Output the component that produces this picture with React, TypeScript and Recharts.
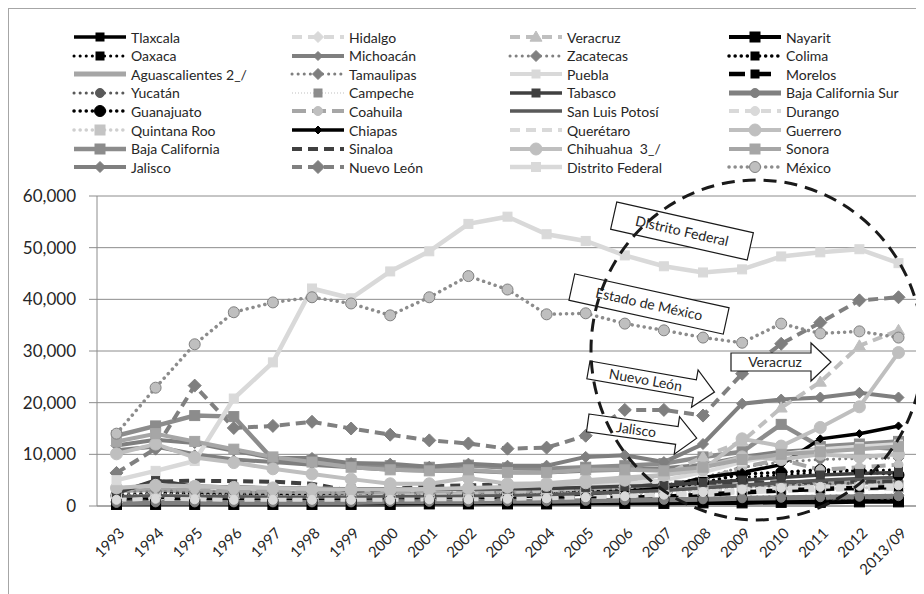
import { CartesianGrid, Line, LineChart, XAxis, YAxis } from "recharts";

const YEARS = [
  "1993", "1994", "1995", "1996", "1997", "1998", "1999", "2000", "2001", "2002",
  "2003", "2004", "2005", "2006", "2007", "2008", "2009", "2010", "2011", "2012", "2013/09",
];

const Y_TICKS = [0, 10000, 20000, 30000, 40000, 50000, 60000];

// values, one array per state
const TLAXCALA = [500, 600, 400, 300, 300, 300, 300, 300, 300, 300, 400, 400, 500, 500, 600, 800, 1000, 1200, 1300, 1500, 1600];
const OAXACA = [1000, 1100, 1000, 1200, 1300, 1300, 1400, 1500, 1600, 1800, 2000, 2200, 2400, 2600, 3000, 3500, 5500, 6000, 6500, 6800, 7000];
const AGUASCALIENTES = [3000, 3200, 2800, 2600, 2500, 2500, 2400, 2400, 2300, 2300, 2400, 2600, 2800, 3000, 3300, 3800, 4000, 4200, 4400, 4500, 4600];
const YUCATAN = [1500, 1800, 1700, 1600, 1500, 1500, 1600, 1600, 1700, 1800, 1900, 2000, 2200, 2400, 2600, 3000, 3500, 4000, 4200, 4500, 4700];
const GUANAJUATO = [2000, 2500, 2300, 2200, 2100, 2000, 2000, 2000, 2100, 2200, 2300, 2500, 2800, 3000, 3500, 4500, 6200, 6500, 7000, 6800, 6000];
const QUINTANA_ROO = [1800, 2200, 2000, 1900, 1800, 1800, 1800, 1900, 2000, 2100, 2200, 2300, 2500, 2600, 2800, 3000, 3200, 3300, 3400, 3500, 3600];
const BAJA_CALIFORNIA = [13600, 15500, 17500, 17300, 9000, 8800, 8200, 7800, 7500, 7900, 7400, 7200, 7500, 7800, 8200, 9500, 10500, 15800, 11500, 12000, 12500];
const JALISCO = [11700, 12800, 12200, 10700, 9300, 9300, 8300, 8200, 7600, 8200, 7800, 7800, 9500, 9800, 8500, 12000, 19800, 20600, 21000, 21900, 21000];
const HIDALGO = [1500, 1800, 1600, 1500, 1400, 1400, 1300, 1300, 1300, 1400, 1500, 1600, 1800, 2000, 2200, 2500, 2800, 3000, 3200, 3300, 3400];
const MICHOACAN = [10800, 11500, 10000, 9000, 8500, 8000, 7500, 7000, 6800, 6800, 6500, 6500, 6800, 7000, 7300, 8000, 9500, 10500, 11000, 11500, 11000];
const TAMAULIPAS = [2500, 3000, 2800, 2700, 2600, 2600, 2500, 2500, 2500, 2600, 2700, 2900, 3200, 3600, 4000, 5500, 7500, 8500, 9000, 9200, 9300];
const CAMPECHE = [500, 600, 600, 600, 600, 600, 600, 700, 700, 700, 800, 800, 900, 900, 1000, 1100, 1200, 1300, 1300, 1400, 1500];
const COAHUILA = [3000, 3500, 3200, 3000, 2900, 2800, 2700, 2700, 2700, 2800, 2900, 3100, 3400, 3700, 4000, 5000, 7500, 9000, 7000, 7500, 8000];
const CHIAPAS = [1500, 1700, 1500, 1400, 1400, 1400, 1500, 1500, 1600, 1700, 1800, 2000, 2300, 2800, 3500, 5500, 6500, 8000, 13000, 14000, 15500];
const SINALOA = [2700, 4700, 4900, 4800, 4700, 4300, 2900, 3300, 3800, 4000, 4200, 4300, 4500, 4600, 4600, 4500, 4500, 4600, 4700, 4700, 4800];
const NUEVO_LEON = [6400, 11100, 23300, 15100, 15500, 16300, 15000, 13800, 12700, 12100, 11100, 11300, 13600, 18600, 18600, 17500, 25600, 31400, 35500, 39800, 40400];
const VERACRUZ = [1500, 1800, 1700, 1600, 1600, 1700, 1800, 2000, 2100, 2300, 2600, 3000, 3500, 4500, 6000, 9500, 12500, 19000, 24000, 31000, 34000];
const ZACATECAS = [800, 900, 900, 800, 800, 800, 800, 800, 800, 900, 900, 1000, 1100, 1200, 1300, 1500, 1700, 1800, 1900, 2000, 2100];
const PUEBLA = [3500, 4000, 3800, 3600, 3500, 3400, 3300, 3300, 3200, 3300, 3400, 3600, 3900, 4400, 5000, 6500, 8500, 10000, 11000, 11500, 12000];
const TABASCO = [2500, 5000, 3800, 3700, 3500, 3400, 3300, 3300, 3200, 3300, 3300, 3400, 3600, 3800, 4000, 4500, 5000, 5500, 6000, 6300, 6500];
const SAN_LUIS_POTOSI = [1800, 2000, 1900, 1800, 1700, 1700, 1700, 1800, 1800, 1900, 2000, 2200, 2400, 2700, 3000, 3500, 4000, 4500, 5000, 5300, 5500];
const QUERETARO = [1000, 1200, 1100, 1000, 1000, 1000, 1000, 1100, 1100, 1200, 1300, 1400, 1600, 1800, 2000, 2300, 2600, 2900, 3100, 3300, 3400];
const CHIHUAHUA = [3500, 4000, 3800, 3600, 3500, 3300, 3200, 3200, 3300, 3500, 3700, 4000, 4500, 5000, 6000, 7000, 13000, 11600, 15200, 19200, 29700];
const DISTRITO_FEDERAL = [5000, 6800, 8700, 20800, 27800, 42100, 40200, 45400, 49300, 54600, 56000, 52600, 51300, 48500, 46400, 45200, 45800, 48300, 49100, 49700, 47000];
const NAYARIT = [300, 300, 300, 300, 300, 300, 300, 300, 400, 400, 400, 400, 500, 500, 500, 600, 600, 700, 700, 800, 800];
const COLIMA = [400, 500, 500, 500, 500, 500, 500, 500, 500, 500, 600, 600, 600, 700, 700, 800, 900, 900, 1000, 1000, 1100];
const MORELOS = [800, 900, 900, 900, 900, 900, 1000, 1000, 1000, 1100, 1200, 1300, 1400, 1600, 1800, 2200, 2600, 3000, 3300, 3500, 3700];
const BAJA_CALIFORNIA_SUR = [600, 700, 700, 700, 700, 700, 700, 800, 800, 800, 900, 900, 1000, 1100, 1200, 1300, 1500, 1600, 1700, 1800, 1900];
const DURANGO = [1200, 1400, 1300, 1200, 1200, 1200, 1200, 1200, 1300, 1300, 1400, 1500, 1700, 1900, 2200, 2700, 3200, 3500, 3700, 3900, 4000];
const GUERRERO = [10100, 12000, 9400, 8400, 7200, 6200, 5200, 4300, 4300, 5400, 4300, 4400, 5000, 5500, 6000, 7500, 9500, 9000, 10000, 9500, 10000];
const SONORA = [12500, 14000, 12500, 11000, 9500, 8500, 7500, 7000, 6800, 7000, 6500, 6500, 7000, 7000, 6800, 7500, 9000, 10000, 10500, 11000, 11500];
const MEXICO = [14000, 22900, 31300, 37500, 39400, 40400, 39200, 36900, 40400, 44500, 41900, 37100, 37300, 35300, 34000, 32600, 31600, 35300, 33400, 33800, 32600];

type Shape = "square" | "circle" | "diamond" | "triangle" | "none";

interface Series {
  name: string;
  values: number[];
  stroke: string;
  width: number;
  dash?: string;
  shape: Shape;
  fill?: string;
  outline?: string;
  size?: number;
}

const DOTTED = "0.1 6";
const DASHED = "10 6";

// legend order, column by column
const SERIES: Series[] = [
  { name: "Tlaxcala", values: TLAXCALA, stroke: "#000", width: 3.5, shape: "square", fill: "#000" },
  { name: "Oaxaca", values: OAXACA, stroke: "#000", width: 3, dash: DOTTED, shape: "square", fill: "#000" },
  { name: "Aguascalientes 2_/", values: AGUASCALIENTES, stroke: "#a6a6a6", width: 5, shape: "none" },
  { name: "Yucatán", values: YUCATAN, stroke: "#595959", width: 3, dash: DOTTED, shape: "circle", fill: "#595959" },
  { name: "Guanajuato", values: GUANAJUATO, stroke: "#000", width: 3.5, dash: DOTTED, shape: "circle", fill: "#000", size: 5.5 },
  { name: "Quintana Roo", values: QUINTANA_ROO, stroke: "#cfcfcf", width: 3.5, dash: DOTTED, shape: "square", fill: "#c4c4c4", size: 10 },
  { name: "Baja California", values: BAJA_CALIFORNIA, stroke: "#8c8c8c", width: 4.5, shape: "square", fill: "#8c8c8c", size: 10 },
  { name: "Jalisco", values: JALISCO, stroke: "#7f7f7f", width: 4, shape: "diamond", fill: "#7f7f7f" },
  { name: "Hidalgo", values: HIDALGO, stroke: "#d9d9d9", width: 4, dash: DASHED, shape: "diamond", fill: "#d9d9d9" },
  { name: "Michoacán", values: MICHOACAN, stroke: "#7f7f7f", width: 4, shape: "diamond", fill: "#7f7f7f", size: 4.5 },
  { name: "Tamaulipas", values: TAMAULIPAS, stroke: "#7f7f7f", width: 3, dash: DOTTED, shape: "diamond", fill: "#7f7f7f" },
  { name: "Campeche", values: CAMPECHE, stroke: "#bfbfbf", width: 1, dash: "1 2", shape: "square", fill: "#8c8c8c" },
  { name: "Coahuila", values: COAHUILA, stroke: "#a6a6a6", width: 4, dash: "14 6", shape: "circle", fill: "#bfbfbf" },
  { name: "Chiapas", values: CHIAPAS, stroke: "#000", width: 3.5, shape: "diamond", fill: "#000", size: 4 },
  { name: "Sinaloa", values: SINALOA, stroke: "#404040", width: 4, dash: DASHED, shape: "none" },
  { name: "Nuevo León", values: NUEVO_LEON, stroke: "#808080", width: 4, dash: DASHED, shape: "diamond", fill: "#7f7f7f", size: 6.5 },
  { name: "Veracruz", values: VERACRUZ, stroke: "#bfbfbf", width: 4, dash: DASHED, shape: "triangle", fill: "#bfbfbf" },
  { name: "Zacatecas", values: ZACATECAS, stroke: "#808080", width: 3, dash: DOTTED, shape: "diamond", fill: "#808080" },
  { name: "Puebla", values: PUEBLA, stroke: "#d9d9d9", width: 4, shape: "square", fill: "#d9d9d9" },
  { name: "Tabasco", values: TABASCO, stroke: "#404040", width: 3.5, shape: "square", fill: "#404040" },
  { name: "San Luis Potosí", values: SAN_LUIS_POTOSI, stroke: "#595959", width: 3.5, shape: "none" },
  { name: "Querétaro", values: QUERETARO, stroke: "#d9d9d9", width: 4, dash: DASHED, shape: "none" },
  { name: "Chihuahua  3_/", values: CHIHUAHUA, stroke: "#bfbfbf", width: 4, shape: "circle", fill: "#bfbfbf", size: 6 },
  { name: "Distrito Federal", values: DISTRITO_FEDERAL, stroke: "#d9d9d9", width: 4.5, shape: "square", fill: "#d9d9d9", size: 9 },
  { name: "Nayarit", values: NAYARIT, stroke: "#000", width: 4, shape: "square", fill: "#000", size: 10 },
  { name: "Colima", values: COLIMA, stroke: "#000", width: 3.5, dash: DOTTED, shape: "square", fill: "#000" },
  { name: "Morelos", values: MORELOS, stroke: "#000", width: 4.5, dash: "16 10", shape: "square", fill: "#000" },
  { name: "Baja California Sur", values: BAJA_CALIFORNIA_SUR, stroke: "#808080", width: 5, shape: "circle", fill: "#808080" },
  { name: "Durango", values: DURANGO, stroke: "#d9d9d9", width: 4, dash: DASHED, shape: "circle", fill: "#d9d9d9" },
  { name: "Guerrero", values: GUERRERO, stroke: "#bfbfbf", width: 4, shape: "circle", fill: "#bfbfbf", size: 6 },
  { name: "Sonora", values: SONORA, stroke: "#a6a6a6", width: 4, shape: "square", fill: "#a6a6a6", size: 10 },
  { name: "México", values: MEXICO, stroke: "#8c8c8c", width: 3.5, dash: DOTTED, shape: "circle", fill: "#bfbfbf", outline: "#808080", size: 5.5 },
];

const chartData = YEARS.map((year, i) => {
  const row: Record<string, string | number> = { year };
  for (const s of SERIES) {
    row[s.name] = s.values[i];
  }
  return row;
});

const FONT = "Lato, 'Noto Sans', sans-serif";
const TEXT = "#262626";
const GRID = "#8c8c8c";

function Marker({ s, cx, cy }: { s: Series; cx: number; cy: number }) {
  const fill = s.fill ?? s.stroke;
  const outline = s.outline ?? fill;
  if (s.shape === "square") {
    const a = s.size ?? 8;
    return <rect x={cx - a / 2} y={cy - a / 2} width={a} height={a} fill={fill} stroke={outline} />;
  }
  if (s.shape === "circle") {
    const r = s.size ?? 4.5;
    return <circle cx={cx} cy={cy} r={r} fill={fill} stroke={outline} />;
  }
  if (s.shape === "diamond") {
    const r = s.size ?? 5.5;
    return (
      <polygon
        points={`${cx},${cy - r} ${cx + r},${cy} ${cx},${cy + r} ${cx - r},${cy}`}
        fill={fill}
        stroke={outline}
      />
    );
  }
  if (s.shape === "triangle") {
    const r = s.size ?? 6;
    return (
      <polygon
        points={`${cx},${cy - r} ${cx + r},${cy + r * 0.7} ${cx - r},${cy + r * 0.7}`}
        fill={fill}
        stroke={outline}
      />
    );
  }
  return null;
}

function LegendSymbol({ s }: { s: Series }) {
  return (
    <svg width={56} height={14} style={{ display: "block", flexShrink: 0 }}>
      <line
        x1={2}
        x2={54}
        y1={7}
        y2={7}
        stroke={s.stroke}
        strokeWidth={s.width}
        strokeDasharray={s.dash}
        strokeLinecap={s.dash === DOTTED ? "round" : "butt"}
      />
      <Marker s={s} cx={28} cy={7} />
    </svg>
  );
}

// column x positions of the legend (symbol start, text start)
const LEGEND_COLS = [63, 281, 499, 718];

function ChartLegend() {
  return (
    <>
      {SERIES.map((s, i) => {
        const col = Math.floor(i / 8);
        const row = i % 8;
        return (
          <div
            key={s.name}
            style={{
              position: "absolute",
              left: LEGEND_COLS[col],
              top: 19 + row * 18.6,
              height: 18,
              display: "flex",
              alignItems: "center",
              gap: 3,
              fontSize: 14,
              color: TEXT,
              whiteSpace: "pre",
            }}
          >
            <LegendSymbol s={s} />
            <span>{s.name}</span>
          </div>
        );
      })}
    </>
  );
}

function YTick(props: any) {
  const { x, y, payload } = props;
  return (
    <text x={x} y={y} dy={6} textAnchor="end" fontSize={17} fill={TEXT} fontFamily={FONT}>
      {Number(payload.value).toLocaleString("en-US")}
    </text>
  );
}

function XTick(props: any) {
  const { x, y, payload } = props;
  return (
    <g transform={`translate(${x},${y})`}>
      <text
        x={9}
        y={20}
        transform="rotate(-45 9 20)"
        textAnchor="end"
        fontSize={15}
        fill={TEXT}
        fontFamily={FONT}
      >
        {payload.value}
      </text>
    </g>
  );
}

function Arrow({
  x,
  y,
  len,
  angle,
  label,
}: {
  x: number;
  y: number;
  len: number;
  angle: number;
  label: string;
}) {
  const body = 18;
  const headLen = 20;
  const headH = 38;
  const mid = body / 2;
  const b = len - headLen;
  const pts = [
    [0, 0],
    [b, 0],
    [b, mid - headH / 2],
    [len, mid],
    [b, mid + headH / 2],
    [b, body],
    [0, body],
  ]
    .map((p) => p.join(","))
    .join(" ");
  return (
    <g transform={`translate(${x} ${y}) rotate(${angle})`}>
      <polygon points={pts} fill="#fff" stroke="#1a1a1a" strokeWidth={1.2} />
      <text x={b / 2 + 4} y={mid + 5} textAnchor="middle" fontSize={14} fill={TEXT}>
        {label}
      </text>
    </g>
  );
}

function Box({
  cx,
  cy,
  w,
  h,
  angle,
  label,
}: {
  cx: number;
  cy: number;
  w: number;
  h: number;
  angle: number;
  label: string;
}) {
  return (
    <g transform={`translate(${cx} ${cy}) rotate(${angle})`}>
      <rect x={-w / 2} y={-h / 2} width={w} height={h} fill="#fff" stroke="#1a1a1a" strokeWidth={1.2} />
      <text x={0} y={5} textAnchor="middle" fontSize={14} fill={TEXT}>
        {label}
      </text>
    </g>
  );
}

function Annotations() {
  return (
    <svg
      width={915}
      height={585}
      style={{ position: "absolute", left: 0, top: 0, pointerEvents: "none", fontFamily: FONT }}
    >
      <Box cx={673} cy={222} w={140} h={28} angle={12.7} label="Distrito Federal" />
      <Box cx={640} cy={295} w={158} h={27} angle={12.4} label="Estado de México" />
      <Arrow x={581} y={352} len={128} angle={10} label="Nuevo León" />
      <Arrow x={722} y={344} len={100} angle={0} label="Veracruz" />
      <Arrow x={580} y={405} len={110} angle={8} label="Jalisco" />
      <ellipse
        cx={748}
        cy={341}
        rx={166}
        ry={170}
        fill="none"
        stroke="#1a1a1a"
        strokeWidth={3}
        strokeDasharray="13 8"
      />
    </svg>
  );
}

export default function App() {
  return (
    <div
      style={{
        position: "relative",
        width: 916,
        height: 586,
        boxSizing: "border-box",
        borderTop: "1px solid #a6a6a6",
        borderLeft: "1px solid #a6a6a6",
        background: "#fff",
        fontFamily: FONT,
        overflow: "hidden",
      }}
    >
      <ChartLegend />
      <div style={{ position: "absolute", left: 0, top: 0 }}>
        <LineChart
          width={915}
          height={585}
          data={chartData}
          margin={{ top: 187, right: 6, left: 8, bottom: 8 }}
        >
          <CartesianGrid stroke={GRID} vertical={false} />
          <XAxis
            dataKey="year"
            interval={0}
            padding={{ left: 19.5, right: 19.5 }}
            axisLine={{ stroke: GRID }}
            tickLine={false}
            tick={<XTick />}
            height={80}
          />
          <YAxis
            domain={[0, 60000]}
            ticks={Y_TICKS}
            width={80}
            axisLine={{ stroke: GRID }}
            tickLine={{ stroke: GRID }}
            tickSize={8}
            tickMargin={13}
            tick={<YTick />}
          />
          <YAxis
            yAxisId="frame"
            orientation="right"
            width={0}
            tick={false}
            tickLine={false}
            axisLine={{ stroke: GRID }}
          />
          {SERIES.map((s) => (
            <Line
              key={s.name}
              dataKey={s.name}
              stroke={s.stroke}
              strokeWidth={s.width}
              strokeDasharray={s.dash}
              strokeLinecap={s.dash === DOTTED ? "round" : "butt"}
              isAnimationActive={false}
              activeDot={false}
              dot={(p: any) => (
                <g key={`${s.name}-${p.index}`}>
                  {p.cx != null && p.cy != null ? <Marker s={s} cx={p.cx} cy={p.cy} /> : null}
                </g>
              )}
            />
          ))}
        </LineChart>
      </div>
      <Annotations />
    </div>
  );
}
